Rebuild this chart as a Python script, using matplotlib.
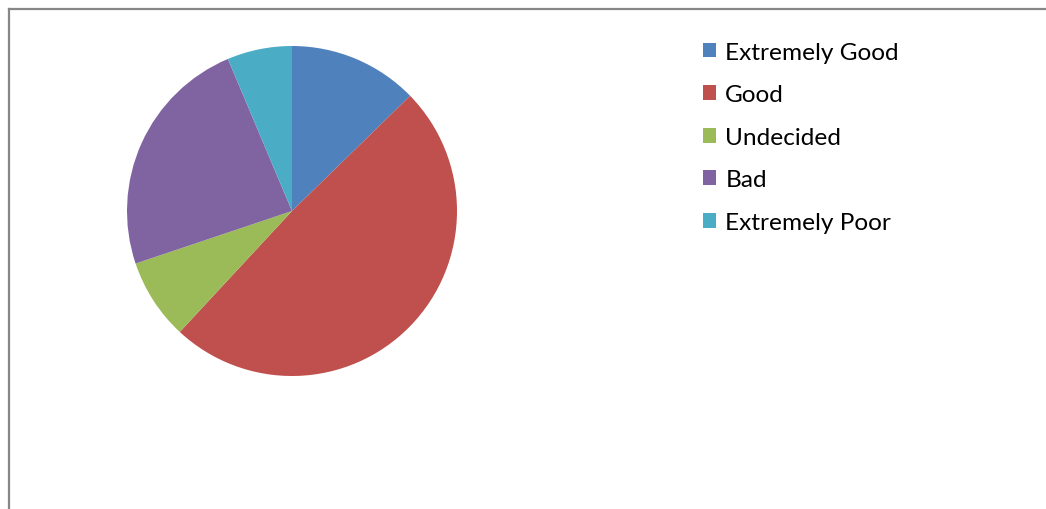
import matplotlib
matplotlib.use("Agg")
import matplotlib.pyplot as plt
from matplotlib.lines import Line2D
from matplotlib.patches import Patch

# survey responses
labels = ["Extremely Good", "Good", "Undecided", "Bad", "Extremely Poor"]
counts = [8, 31, 5, 15, 4]
colors = ["#4F81BD", "#C0504D", "#9BBB59", "#8064A2", "#4BACC6"]

W, H = 1046, 510
fig = plt.figure(figsize=(W / 100, H / 100), dpi=100)
fig.patch.set_facecolor("white")

# pie centred at (292, 212) px, radius 165 px
cx, cy, r = 292, 212, 165
ax = fig.add_axes([(cx - r) / W, (H - cy - r) / H, 2 * r / W, 2 * r / H])
ax.pie(counts, colors=colors, startangle=90, counterclock=False,
       wedgeprops=dict(linewidth=0))
ax.set_xlim(-1, 1)
ax.set_ylim(-1, 1)
ax.axis("off")

# chart area frame (only top and left edges visible)
fig.add_artist(Line2D([8.5 / W, 1.0], [1 - 9.5 / H, 1 - 9.5 / H],
                      transform=fig.transFigure, color="#878787", lw=1.6))
fig.add_artist(Line2D([8.5 / W, 8.5 / W], [1 - 9.5 / H, 0.0],
                      transform=fig.transFigure, color="#878787", lw=1.6))

handles = [Patch(facecolor=c, edgecolor="none") for c in colors]
leg = fig.legend(handles, labels, loc="upper left",
                 bbox_to_anchor=(693 / W, 1 - 33 / H),
                 frameon=False, prop=dict(family="Lato", size=17.6),
                 handlelength=0.55, handleheight=0.55, handletextpad=0.37,
                 labelspacing=0.88, borderaxespad=0)

fig.savefig("out.png", dpi=100)
